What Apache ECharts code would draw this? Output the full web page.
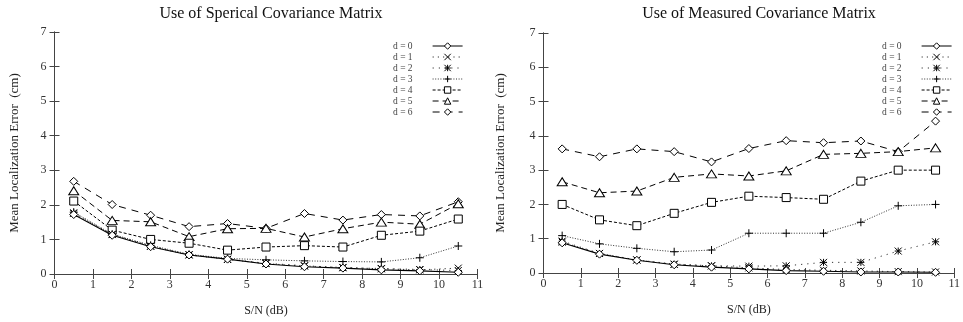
<!DOCTYPE html>
<html>
<head>
<meta charset="utf-8">
<script src="https://cdn.jsdelivr.net/npm/echarts@6/dist/echarts.min.js"></script>
<style>html,body{margin:0;padding:0;background:#fff}#c{width:963px;height:322px}</style>
</head>
<body>
<div id="c"></div>
<script>
// ---- data ----
const snr = [0.5, 1.5, 2.5, 3.5, 4.5, 5.5, 6.5, 7.5, 8.5, 9.5, 10.5];
const names = ['d = 0', 'd = 1', 'd = 2', 'd = 3', 'd = 4', 'd = 5', 'd = 6'];
const xTicks = [0, 1, 2, 3, 4, 5, 6, 7, 8, 9, 10, 11];
const yTicks = [0, 1, 2, 3, 4, 5, 6, 7];
// Spherical covariance matrix
const sph0 = [1.72, 1.12, 0.79, 0.55, 0.43, 0.29, 0.21, 0.17, 0.12, 0.09, 0.05];
const sph1 = [1.75, 1.14, 0.80, 0.55, 0.42, 0.30, 0.23, 0.19, 0.15, 0.12, 0.17];
const sph2 = [1.77, 1.15, 0.81, 0.56, 0.43, 0.31, 0.24, 0.18, 0.16, 0.13, 0.10];
const sph3 = [1.79, 1.15, 0.83, 0.57, 0.45, 0.41, 0.38, 0.36, 0.35, 0.47, 0.81];
const sph4 = [2.11, 1.27, 1.00, 0.89, 0.69, 0.78, 0.82, 0.78, 1.12, 1.24, 1.59];
const sph5 = [2.41, 1.55, 1.51, 1.08, 1.31, 1.32, 1.07, 1.31, 1.50, 1.44, 2.03];
const sph6 = [2.68, 2.01, 1.70, 1.37, 1.46, 1.32, 1.75, 1.56, 1.72, 1.68, 2.09];
// Measured covariance matrix
const mea0 = [0.88, 0.55, 0.37, 0.24, 0.17, 0.12, 0.07, 0.05, 0.03, 0.03, 0.02];
const mea1 = [0.90, 0.57, 0.38, 0.26, 0.21, 0.15, 0.10, 0.08, 0.06, 0.04, 0.03];
const mea2 = [0.93, 0.57, 0.38, 0.25, 0.21, 0.20, 0.21, 0.31, 0.31, 0.64, 0.91];
const mea3 = [1.09, 0.85, 0.72, 0.62, 0.67, 1.16, 1.16, 1.16, 1.48, 1.96, 2.00];
const mea4 = [2.00, 1.55, 1.38, 1.74, 2.06, 2.24, 2.20, 2.15, 2.68, 3.00, 3.00];
const mea5 = [2.66, 2.34, 2.39, 2.79, 2.89, 2.83, 2.98, 3.46, 3.49, 3.54, 3.65];
const mea6 = [3.62, 3.39, 3.62, 3.54, 3.24, 3.63, 3.86, 3.80, 3.85, 3.54, 4.43];

const sphSets = [sph0, sph1, sph2, sph3, sph4, sph5, sph6];
const meaSets = [mea0, mea1, mea2, mea3, mea4, mea5, mea6];

// ---- styles ----
const FONT = 'Liberation Serif';
const AX = '#444';
const styles = [
  {symbol: 'diamond', size: [8, 8], fill: '#fff', dash: 'solid', lw: 1.1, lc: '#000'},
  {symbol: 'path://M0,0L10,10M10,0L0,10', size: 7, fill: '#000', dash: [1.2, 4], lw: 1, lc: '#333'},
  {symbol: 'path://M0,0L10,10M10,0L0,10M5,0L5,10M0,5L10,5', size: 7, fill: '#000', dash: [1.2, 5], lw: 1, lc: '#333'},
  {symbol: 'path://M5,0L5,10M0,5L10,5', size: 8, fill: '#000', dash: [1, 1.6], lw: 1, lc: '#333'},
  {symbol: 'rect', size: 8, fill: '#fff', dash: [3, 2], lw: 1, lc: '#000'},
  {symbol: 'triangle', size: [10, 8], fill: '#fff', dash: [6, 4], lw: 1, lc: '#000'},
  {symbol: 'diamond', size: [8, 8], fill: '#fff', dash: [7, 6], lw: 1, lc: '#000'}
];

function mkSeries(sets, gi) {
  return sets.map((vals, i) => {
    const st = styles[i];
    return {
      name: names[i], type: 'line', xAxisIndex: gi * 2, yAxisIndex: gi * 2,
      data: snr.map((x, k) => [x, vals[k]]),
      symbol: st.symbol, symbolSize: st.size, showAllSymbol: true,
      itemStyle: {color: st.fill, borderColor: '#000', borderWidth: 1},
      lineStyle: {color: st.lc, width: st.lw, type: st.dash},
      emphasis: {disabled: true}, silent: true, animation: false, z: 10 - i
    };
  });
}

function xAxes(gi) {
  const base = {
    type: 'value', gridIndex: gi, min: xTicks[0], max: xTicks[xTicks.length - 1], interval: 1,
    axisLine: {lineStyle: {color: AX, width: 1}},
    axisTick: {inside: true, length: 5, lineStyle: {color: AX}},
    splitLine: {show: false}
  };
  return [
    Object.assign({}, base, {
      position: 'bottom', name: 'S/N (dB)', nameLocation: 'middle', nameGap: 31,
      nameTextStyle: {fontFamily: FONT, fontSize: 12, color: '#222'},
      axisLabel: {fontFamily: FONT, fontSize: 12, color: '#333', margin: 5}
    }),
    Object.assign({}, base, {position: 'top', axisLabel: {show: false}})
  ];
}
function yAxes(gi, gap) {
  const base = {
    type: 'value', gridIndex: gi, min: yTicks[0], max: yTicks[yTicks.length - 1], interval: 1,
    axisLine: {show: true, lineStyle: {color: AX, width: 1}},
    axisTick: {show: true, inside: true, length: 5, lineStyle: {color: AX}},
    splitLine: {show: false}
  };
  return [
    Object.assign({}, base, {
      position: 'left', name: 'Mean Localization Error  (cm)', nameLocation: 'middle', nameGap: gap,
      nameTextStyle: {fontFamily: FONT, fontSize: 13, color: '#222'},
      axisLabel: {fontFamily: FONT, fontSize: 12, color: '#333', margin: 8}
    }),
    Object.assign({}, base, {position: 'right', axisLabel: {show: false}})
  ];
}

function legend(left) {
  return {
    data: names, orient: 'vertical', align: 'right', left: left, top: 36,
    itemWidth: 30, itemHeight: 8, itemGap: 1, selectedMode: false,
    lineStyle: {width: 1},
    itemStyle: {borderWidth: 1},
    textStyle: {fontFamily: FONT, fontSize: 9.5, color: '#444', padding: [0, 15, 0, 0]}
  };
}

const chart = echarts.init(document.getElementById('c'), null, {renderer: 'canvas'});
chart.setOption({
  animation: false,
  backgroundColor: '#fff',
  title: [
    {text: 'Use of Sperical Covariance Matrix', left: 266, top: 1, textAlign: 'center',
     textStyle: {fontFamily: FONT, fontSize: 16, fontWeight: 'normal', color: '#111'}},
    {text: 'Use of Measured Covariance Matrix', left: 754, top: 1, textAlign: 'center',
     textStyle: {fontFamily: FONT, fontSize: 16, fontWeight: 'normal', color: '#111'}}
  ],
  grid: [
    {left: 54.5, top: 32, width: 423, height: 243},
    {left: 543.5, top: 33, width: 422.5, height: 240}
  ],
  legend: [legend(388), legend(877)],
  xAxis: xAxes(0).concat(xAxes(1)),
  yAxis: yAxes(0, 33).concat(yAxes(1, 36)),
  series: mkSeries(sphSets, 0).concat(mkSeries(meaSets, 1))
});
</script>
</body>
</html>
